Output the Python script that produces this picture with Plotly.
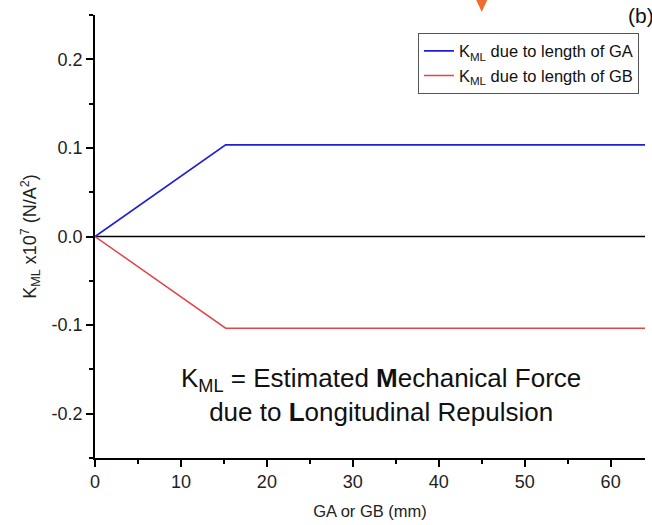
import plotly.graph_objects as go

gap_mm = [0, 15.2, 64]
k_ga = [0.0, 0.1035, 0.1035]
k_gb = [0.0, -0.1035, -0.1035]
zero_x = [0, 64]
zero_y = [0, 0]
x_ticks = [0, 10, 20, 30, 40, 50, 60]
x_minor = [5, 15, 25, 35, 45, 55]
y_ticks = [-0.2, -0.1, 0.0, 0.1, 0.2]
y_ticklabels = ["-0.2", "-0.1", "0.0", "0.1", "0.2"]
y_minor = [-0.25, -0.15, -0.05, 0.05, 0.15, 0.25]

fig = go.Figure()
fig.add_trace(go.Scatter(x=zero_x, y=zero_y, mode="lines", line=dict(color="black", width=1.5),
                         showlegend=False, hoverinfo="skip"))
fig.add_trace(go.Scatter(x=gap_mm, y=k_ga, mode="lines", line=dict(color="#1f1fd6", width=1.7),
                         name="K<sub>ML</sub> due to length of GA"))
fig.add_trace(go.Scatter(x=gap_mm, y=k_gb, mode="lines", line=dict(color="#e0454a", width=1.5),
                         name="K<sub>ML</sub> due to length of GB"))

axis_font = dict(family="Liberation Sans, Arial", size=18, color="#222")
fig.update_layout(
    width=652, height=525,
    margin=dict(l=95, r=7, t=15, b=67),
    plot_bgcolor="white", paper_bgcolor="white",
    font=dict(family="Liberation Sans, Arial", size=16, color="#222"),
    xaxis=dict(range=[0, 64], tickvals=x_ticks, ticks="outside",
               ticklen=7, tickwidth=1.5, tickcolor="black", showline=True, linecolor="black",
               linewidth=1.5, showgrid=False, zeroline=False, tickfont=axis_font,
               minor=dict(tickvals=x_minor, ticks="outside", ticklen=4,
                          tickcolor="black", tickwidth=1.5),
               title=dict(text="GA or GB (mm)", font=dict(size=16.5), standoff=14)),
    yaxis=dict(range=[-0.25, 0.25], tickvals=y_ticks, ticktext=y_ticklabels, ticks="outside",
               ticklen=7, tickwidth=1.5, tickcolor="black", showline=True, linecolor="black",
               linewidth=1.5, showgrid=False, zeroline=False, tickfont=axis_font,
               minor=dict(tickvals=y_minor, ticks="outside",
                          ticklen=4, tickcolor="black", tickwidth=1.5),
               title=dict(text="K<sub>ML</sub> x10<sup>7</sup> (N/A<sup>2</sup>)",
                          font=dict(size=18), standoff=10)),
    legend=dict(x=0.989, y=0.96, xanchor="right", yanchor="top", bgcolor="white",
                bordercolor="#555", borderwidth=1, font=dict(size=16.5, color="#111"),
                tracegroupgap=0, itemwidth=30),
    showlegend=True,
)
fig.add_annotation(x=0.52, y=0.142, xref="paper", yref="paper", showarrow=False,
                   xanchor="center", yanchor="middle",
                   text="K<sub>ML</sub> = Estimated <b>M</b>echanical Force<br>due to <b>L</b>ongitudinal Repulsion",
                   font=dict(size=26, color="#111"), align="center")
fig.add_annotation(xref="paper", yref="paper", x=1.02, y=1.03, xanchor="right", yanchor="top",
                   showarrow=False, text="(b)", font=dict(size=21, color="#111"))
# partial orange marker at the top edge
fig.add_shape(type="path", xref="x", yref="paper",
              path="M 44.1 1.045 L 45.9 1.045 L 45.0 1.007 Z",
              fillcolor="#f26b2e", line=dict(width=0))
fig.write_html("out.html")
